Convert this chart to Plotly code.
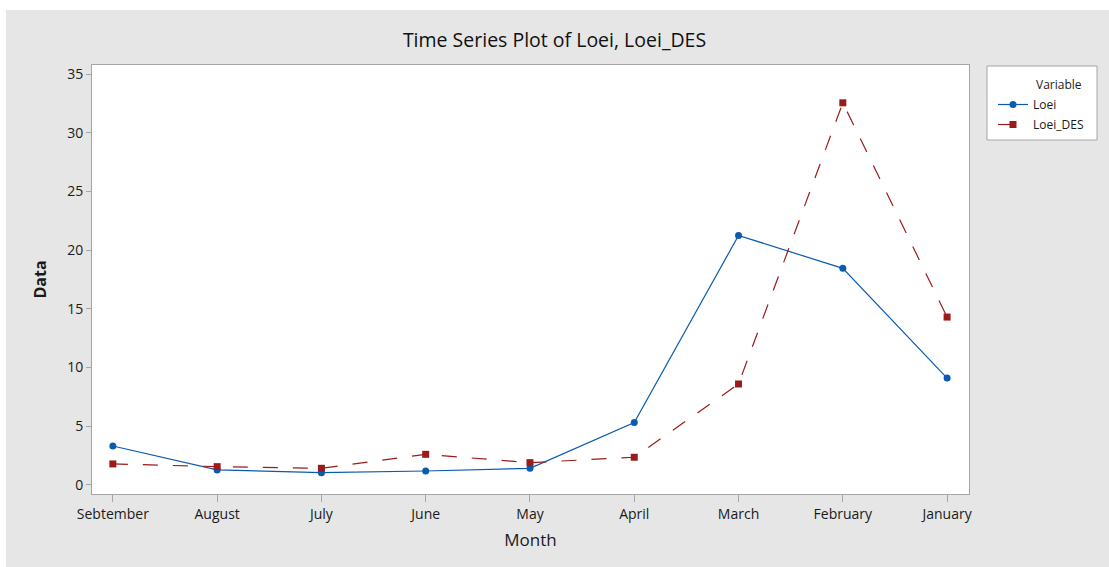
import plotly.graph_objects as go

months = ["Sebtember", "August", "July", "June", "May", "April", "March", "February", "January"]
loei = [3.32, 1.28, 1.05, 1.19, 1.42, 5.31, 21.25, 18.45, 9.1]
loei_des = [1.79, 1.56, 1.42, 2.61, 1.9, 2.36, 8.6, 32.55, 14.3]
y_ticks = [0, 5, 10, 15, 20, 25, 30, 35]

idx = list(range(len(months)))
FONT = "Open Sans"
BLUE = "#0A5BB0"
RED = "#9B1B1B"
GRID = "#a6a6a6"

# pixel -> paper helpers (plot area: x 92..969, y 65..494)
def px(x):
    return (x - 92) / 877

def py(y):
    return (494 - y) / 429

fig = go.Figure()
fig.add_trace(go.Scatter(
    x=idx, y=loei, name="Loei", mode="lines+markers", legendgroup="a",
    line=dict(color=BLUE, width=1.2),
    marker=dict(symbol="circle", size=7, color=BLUE),
))
fig.add_trace(go.Scatter(
    x=idx, y=loei_des, name="Loei_DES", mode="lines+markers", legendgroup="b",
    line=dict(color=RED, width=1.2, dash="longdash"),
    marker=dict(symbol="square", size=7, color=RED),
))

fig.update_layout(
    width=1109, height=567,
    margin=dict(l=92, r=140, t=65, b=73, autoexpand=False),
    paper_bgcolor="#e6e6e6",
    plot_bgcolor="white",
    font=dict(family=FONT, color="#1a1a1a", size=13),
    title=dict(text="Time Series Plot of Loei, Loei_DES", x=0.5, xanchor="center",
               y=1 - 40 / 567, yanchor="middle", font=dict(size=19.5, family=FONT, color="#111111")),
    showlegend=True,
    legend=dict(
        x=px(993), xanchor="left", y=py(90), yanchor="top",
        bgcolor="rgba(0,0,0,0)", borderwidth=0,
        font=dict(size=12, family=FONT, color="#1a1a1a"),
        tracegroupgap=1, itemwidth=30,
    ),
    xaxis=dict(
        range=[-0.2, 8.21], tickmode="array", tickvals=idx, ticktext=months,
        showgrid=False, zeroline=False, showline=True, mirror=True,
        linecolor=GRID, linewidth=1, ticks="outside", ticklen=7, tickcolor=GRID,
        tickfont=dict(size=14), title=dict(text="Month", font=dict(size=17), standoff=12),
    ),
    yaxis=dict(
        range=[-0.77, 35.77], tickmode="array", tickvals=y_ticks,
        showgrid=False, zeroline=False, showline=True, mirror=True,
        linecolor=GRID, linewidth=1, ticks="outside", ticklen=5, tickcolor=GRID,
        tickfont=dict(size=14), title=dict(text="<b>Data</b>", font=dict(size=16), standoff=16),
    ),
    shapes=[
        dict(type="rect", xref="paper", yref="paper", x0=px(0), x1=px(1109),
             y0=py(10), y1=py(0), fillcolor="white", line=dict(width=0), layer="below"),
        dict(type="rect", xref="paper", yref="paper", x0=px(0), x1=px(6),
             y0=py(567), y1=py(0), fillcolor="white", line=dict(width=0), layer="below"),
        dict(type="rect", xref="paper", yref="paper", x0=px(987), x1=px(1097),
             y0=py(140), y1=py(66), fillcolor="white", line=dict(width=1, color=GRID), layer="below"),
    ],
    annotations=[
        dict(text="Variable", xref="paper", yref="paper", x=px(1034), y=py(85),
             xanchor="left", yanchor="middle", showarrow=False,
             font=dict(size=12, family=FONT, color="#1a1a1a")),
    ],
)

fig.write_html(
    "out.html",
    config={"displayModeBar": False},
    post_script="document.body.style.margin='0';document.body.style.overflow='hidden';",
)
